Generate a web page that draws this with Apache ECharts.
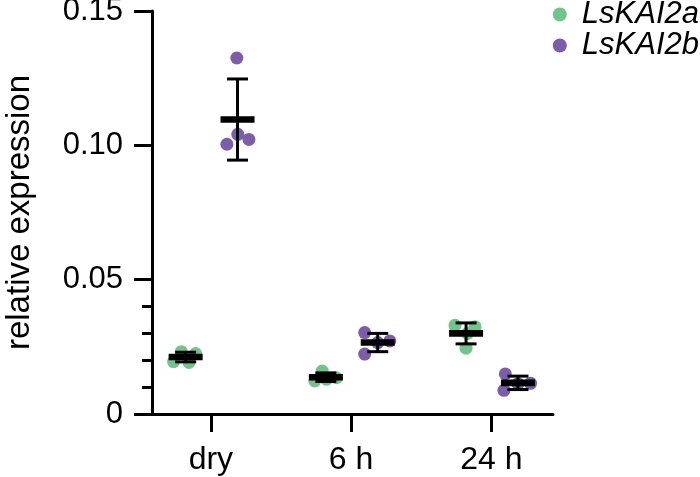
<!DOCTYPE html>
<html>
<head>
<meta charset="utf-8">
<script src="https://cdn.jsdelivr.net/npm/echarts@6/dist/echarts.min.js"></script>
<style>
  html, body { margin: 0; padding: 0; background: #fff; }
  #chart { width: 700px; height: 477px; }
</style>
</head>
<body>
<div id="chart"></div>
<script>
// groups on the x axis
const groups = ['dry', '6 h', '24 h'];
const seriesNames = ['LsKAI2a', 'LsKAI2b'];
const colors = ['#72c48d', '#7b5ea7'];

// side offset of each gene inside a group (category units)
const sideOffset = [-0.18, 0.19];

// single replicates, per group
const kai2aPoints = [
  [0.0232, 0.0225, 0.0195, 0.0192],
  [0.0160, 0.0135, 0.0123, 0.0129],
  [0.0330, 0.0325, 0.0245, 0.0300]
];
const kai2bPoints = [
  [0.1325, 0.1004, 0.1041, 0.1022],
  [0.0303, 0.0223, 0.0272, 0.0266],
  [0.0149, 0.0088, 0.0114, 0.0113]
];
// horizontal spread of the dots (category units)
const kai2aJitter = [
  [-0.031, 0.071, -0.086, 0.024],
  [-0.026, 0.076, -0.079, 0.005],
  [-0.079, 0.064, 0.0, 0.01]
];
const kai2bJitter = [
  [-0.005, -0.076, 0.002, 0.081],
  [-0.093, -0.093, 0.086, 0.0],
  [-0.09, -0.1, 0.09, 0.0]
];

// mean and SD
const kai2aMean = [0.0212, 0.0137, 0.0300];
const kai2aSd = [0.0018, 0.0016, 0.0039];
const kai2bMean = [0.1096, 0.0266, 0.0116];
const kai2bSd = [0.0151, 0.0034, 0.0025];

// y axis ticks
const yMajor = [0, 0.05, 0.10, 0.15];
const yMinor = [0.01, 0.02, 0.03, 0.04];

const FONT = 'Liberation Sans, Arial, Helvetica, sans-serif';

function dots(points, jitter, side) {
  const out = [];
  points.forEach(function (vals, g) {
    vals.forEach(function (v, i) {
      out.push([g + sideOffset[side] + jitter[g][i], v]);
    });
  });
  return out;
}

function meanSd(mean, sd, side) {
  return mean.map(function (m, g) {
    return [g + sideOffset[side], m, sd[g]];
  });
}

function renderMean(params, api) {
  const x = api.value(0);
  const m = api.value(1);
  const s = api.value(2);
  const c = api.coord([x, m]);
  const top = api.coord([x, m + s]);
  const bot = api.coord([x, m - s]);
  const halfMean = 17;
  const halfCap = 10.5;
  const lineStyle = { stroke: '#000', lineWidth: 3 };
  return {
    type: 'group',
    children: [
      { type: 'line', shape: { x1: c[0], y1: top[1], x2: c[0], y2: bot[1] }, style: lineStyle },
      { type: 'line', shape: { x1: c[0] - halfCap, y1: top[1], x2: c[0] + halfCap, y2: top[1] }, style: lineStyle },
      { type: 'line', shape: { x1: c[0] - halfCap, y1: bot[1], x2: c[0] + halfCap, y2: bot[1] }, style: lineStyle },
      { type: 'rect', shape: { x: c[0] - halfMean, y: c[1] - 3.3, width: halfMean * 2, height: 6.6 }, style: { fill: '#000' } }
    ]
  };
}

const chart = echarts.init(document.getElementById('chart'));

const option = {
  animation: false,
  grid: { left: 152, right: 147, top: 11, bottom: 63, containLabel: false, outerBoundsMode: 'none' },
  legend: {
    orient: 'vertical',
    right: -4,
    top: -6,
    itemWidth: 34,
    itemHeight: 14,
    itemGap: 0,
    icon: 'circle',
    data: seriesNames,
    textStyle: { fontFamily: FONT, fontSize: 31, fontStyle: 'italic', color: '#000', lineHeight: 29 }
  },
  xAxis: {
    type: 'value',
    min: -0.42,
    max: 2.44,
    splitLine: { show: false },
    axisLine: { show: true, onZero: false, lineStyle: { color: '#000', width: 3 } },
    axisTick: { show: true, length: 18, lineStyle: { color: '#000', width: 3 }, customValues: [0, 1, 2] },
    axisLabel: {
      customValues: [0, 1, 2],
      margin: 30,
      fontFamily: FONT,
      fontSize: 32,
      color: '#000',
      formatter: function (v) { return groups[Math.round(v)]; }
    }
  },
  yAxis: [
    {
      type: 'value',
      min: 0,
      max: 0.15,
      interval: 0.05,
      name: 'relative expression',
      nameLocation: 'middle',
      nameGap: 116,
      nameTextStyle: { fontFamily: FONT, fontSize: 33, color: '#000' },
      splitLine: { show: false },
      axisLine: { show: true, onZero: false, lineStyle: { color: '#000', width: 3 } },
      axisTick: { show: true, length: 18, lineStyle: { color: '#000', width: 3 }, customValues: yMajor },
      axisLabel: {
        customValues: yMajor,
        margin: 29,
        fontFamily: FONT,
        fontSize: 31,
        color: '#000',
        formatter: function (v) { return v === 0 ? '0' : v.toFixed(2); }
      }
    },
    {
      type: 'value',
      min: 0,
      max: 0.15,
      position: 'left',
      splitLine: { show: false },
      axisLine: { show: false, onZero: false },
      axisLabel: { show: false },
      axisTick: { show: true, length: 10, lineStyle: { color: '#000', width: 3 }, customValues: yMinor }
    }
  ],
  series: [
    {
      name: seriesNames[0],
      type: 'scatter',
      symbolSize: 13,
      itemStyle: { color: colors[0], opacity: 1 },
      z: 2,
      data: dots(kai2aPoints, kai2aJitter, 0)
    },
    {
      name: seriesNames[1],
      type: 'scatter',
      symbolSize: 13,
      itemStyle: { color: colors[1], opacity: 1 },
      z: 2,
      data: dots(kai2bPoints, kai2bJitter, 1)
    },
    {
      name: 'mean a',
      type: 'custom',
      renderItem: renderMean,
      encode: { x: 0, y: 1 },
      z: 3,
      data: meanSd(kai2aMean, kai2aSd, 0)
    },
    {
      name: 'mean b',
      type: 'custom',
      renderItem: renderMean,
      encode: { x: 0, y: 1 },
      z: 3,
      data: meanSd(kai2bMean, kai2bSd, 1)
    }
  ]
};

chart.setOption(option);
</script>
</body>
</html>
